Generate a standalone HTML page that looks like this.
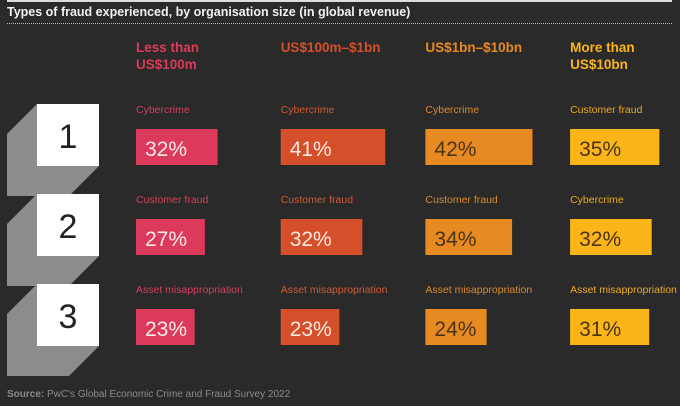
<!DOCTYPE html>
<html><head><meta charset="utf-8"><style>
body{margin:0;background:#2a2a2a;}
#c{position:relative;width:680px;height:406px;background:#2a2a2a;font-family:"Liberation Sans",sans-serif;overflow:hidden;}
.t{position:absolute;white-space:nowrap;}
</style></head><body>
<div id="c">
<div class="t" style="left:7px;top:0;width:665px;height:2px;background:#ddd"></div>
<div class="t" style="left:7px;top:5px;font-size:12.5px;font-weight:bold;color:#f2f2f2">Types of fraud experienced, by organisation size (in global revenue)</div>
<div class="t" style="left:7px;top:23px;width:665px;border-top:1px dotted #bbb"></div>
<svg id="s" width="680" height="406" style="position:absolute;left:0;top:0"></svg>
<div class="t" style="left:7px;top:389px;font-size:10px;color:#8a8a8a"><b>Source:</b> PwC's Global Economic Crime and Fraud Survey 2022</div>
</div>
<script>
const headers=[["Less than","US$100m"],["US$100m–$1bn"],["US$1bn–$10bn"],["More than","US$10bn"]];
const colColors=["#dc3a5b","#d5502a","#e88a22","#fbb519"];
const labelColors=["#d23f5e","#cf5a33","#d98a2e","#e8ab25"];
const textColors=["#fbe9ec","#fbe9e2","#4a3418","#4a3418"];
const fraudTypes=[["Cybercrime","Customer fraud","Asset misappropriation"],["Cybercrime","Customer fraud","Asset misappropriation"],["Cybercrime","Customer fraud","Asset misappropriation"],["Customer fraud","Cybercrime","Asset misappropriation"]];
const values=[[32,27,23],[41,32,23],[42,34,24],[35,32,31]];
const ranks=[1,2,3];
const NS="http://www.w3.org/2000/svg";
const s=document.getElementById('s');
function el(tag,attrs,parent){const e=document.createElementNS(NS,tag);for(const k in attrs)e.setAttribute(k,attrs[k]);(parent||s).appendChild(e);return e;}
const colX=i=>136+i*144.7;
const rowY=r=>129+r*90;
const barW=v=>v*2.55;
for(let i=0;i<3;i++){const l=el('line',{x1:117+i*145,x2:117+i*145,y1:38,y2:370,stroke:'#333','stroke-dasharray':'1 2'});

}
ranks.forEach((rk,r)=>{const y=rowY(r)-25;
const p=el('polygon',{points:`37,${y} 7,${y+30} 7,${y+92} 69,${y+92} 99,${y+62} 99,${y}`,fill:'#8c8c8c'});


const b=el('rect',{x:37,y:y,width:62,height:62,fill:'#fff'});


const t=el('text',{x:68,y:y+44,'text-anchor':'middle','font-size':34,fill:'#222','font-weight':300});t.textContent=rk;

});
headers.forEach((h,i)=>{h.forEach((line,j)=>{const t=el('text',{x:colX(i),y:52+j*17,'font-size':13.5,'font-weight':'bold',fill:colColors[i]});t.textContent=line;

});
values[i].forEach((v,r)=>{const y=rowY(r);
const lb=el('text',{x:colX(i),y:y-16,'font-size':10.5,fill:labelColors[i]});lb.textContent=fraudTypes[i][r];


const b=el('rect',{x:colX(i),y:y,width:barW(v),height:36,fill:colColors[i]});


const t=el('text',{x:colX(i)+9,y:y+27,'font-size':21,fill:textColors[i]});t.textContent=v+'%';

});});
</script>
</body></html>
